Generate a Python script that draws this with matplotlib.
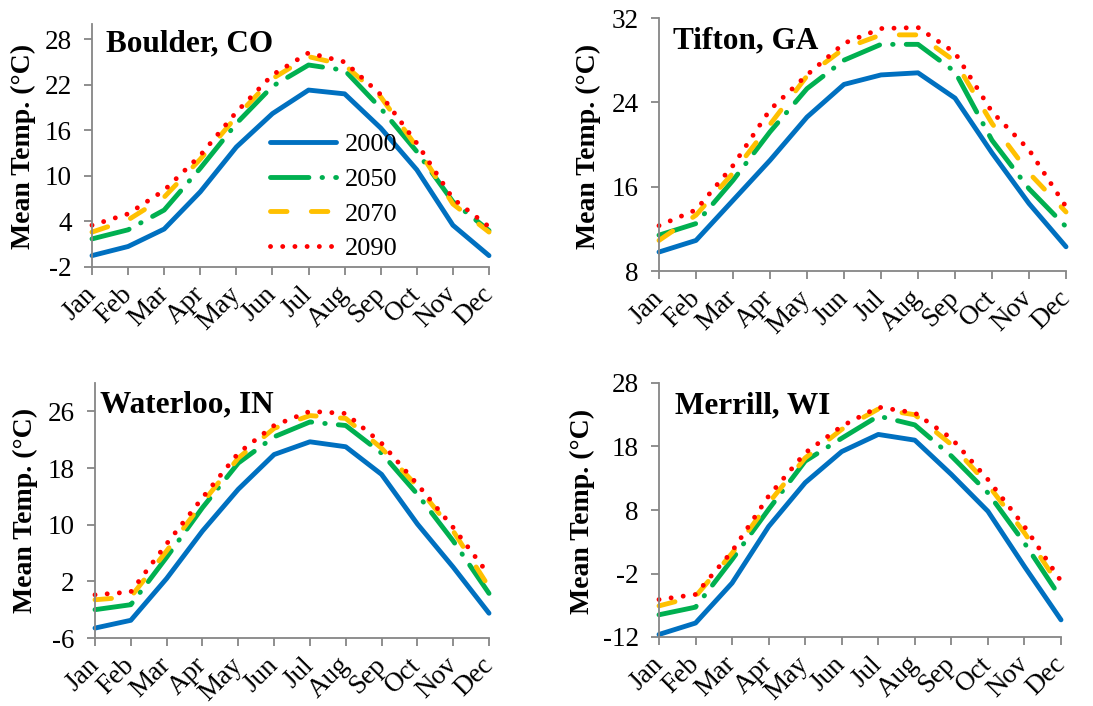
import matplotlib
matplotlib.use("Agg")
import matplotlib.pyplot as plt

plt.rcParams['font.family'] = ['Liberation Serif', 'DejaVu Serif']

months = ['Jan', 'Feb', 'Mar', 'Apr', 'May', 'Jun', 'Jul', 'Aug', 'Sep', 'Oct', 'Nov', 'Dec']
years = ['2000', '2050', '2070', '2090']

boulder_2000 = [-0.5, 0.7, 3.0, 7.9, 13.8, 18.2, 21.3, 20.8, 16.3, 10.8, 3.5, -0.5]
boulder_2050 = [1.7, 2.9, 5.5, 11.0, 16.9, 21.8, 24.6, 23.9, 18.9, 13.2, 6.6, 2.8]
boulder_2070 = [2.6, 4.2, 7.2, 12.2, 17.8, 22.8, 25.7, 24.6, 20.4, 13.8, 6.3, 2.6]
boulder_2090 = [3.5, 5.0, 8.1, 12.7, 18.4, 23.3, 26.2, 25.0, 20.7, 14.3, 7.0, 3.3]

tifton_2000 = [9.8, 10.9, 14.7, 18.5, 22.6, 25.7, 26.6, 26.8, 24.4, 19.2, 14.4, 10.3]
tifton_2050 = [11.4, 12.5, 16.6, 21.2, 25.3, 28.0, 29.5, 29.5, 26.9, 20.4, 15.8, 12.2]
tifton_2070 = [10.9, 13.3, 17.3, 21.9, 26.5, 29.1, 30.4, 30.4, 27.9, 22.0, 17.3, 13.6]
tifton_2090 = [12.3, 13.8, 18.0, 23.3, 26.6, 29.6, 31.0, 31.1, 28.7, 23.1, 19.5, 14.1]

waterloo_2000 = [-4.6, -3.5, 2.4, 9.1, 15.0, 19.9, 21.7, 21.0, 17.1, 10.1, 4.0, -2.5]
waterloo_2050 = [-2.0, -1.3, 5.4, 12.4, 18.7, 22.4, 24.5, 24.0, 20.1, 14.3, 7.7, 0.3]
waterloo_2070 = [-0.6, -0.2, 6.3, 13.1, 19.4, 23.6, 25.4, 25.0, 20.8, 15.4, 9.1, 1.2]
waterloo_2090 = [0.1, 0.5, 7.3, 13.8, 20.1, 24.0, 26.0, 25.7, 21.5, 15.7, 9.6, 2.9]

merrill_2000 = [-11.6, -9.8, -3.5, 5.4, 12.3, 17.2, 19.9, 19.0, 13.6, 7.8, -0.9, -9.3]
merrill_2050 = [-8.5, -7.3, 0.2, 8.1, 15.7, 19.3, 22.8, 21.4, 16.5, 10.7, 2.8, -5.9]
merrill_2070 = [-7.1, -5.6, 1.2, 9.1, 16.2, 20.7, 23.9, 23.0, 18.3, 12.0, 4.4, -4.3]
merrill_2090 = [-6.1, -5.3, 1.5, 10.2, 17.0, 21.2, 24.2, 23.3, 19.3, 12.8, 5.4, -3.2]

panels = [
    dict(title='Boulder, CO', series=[boulder_2000, boulder_2050, boulder_2070, boulder_2090],
         yticks=[-2, 4, 10, 16, 22, 28], ylim=(-2, 30)),
    dict(title='Tifton, GA', series=[tifton_2000, tifton_2050, tifton_2070, tifton_2090],
         yticks=[8, 16, 24, 32], ylim=(8, 32)),
    dict(title='Waterloo, IN', series=[waterloo_2000, waterloo_2050, waterloo_2070, waterloo_2090],
         yticks=[-6, 2, 10, 18, 26], ylim=(-6, 30)),
    dict(title='Merrill, WI', series=[merrill_2000, merrill_2050, merrill_2070, merrill_2090],
         yticks=[-12, -2, 8, 18, 28], ylim=(-12, 28)),
]

W, H = 1093, 706
# axes boxes in pixels: left, top, right, bottom
boxes = [(92, 24, 489, 267), (659, 18, 1066, 271), (95, 383, 489, 638), (659, 383, 1061, 637)]
title_pos = [(106, 51), (673, 48), (100, 412), (675, 413)]
ylabel_pos = [(23, 146), (588, 146), (25, 510), (582, 511)]

colors = ['#0070C0', '#00B050', '#FFC000', '#FF0000']
LW = 3.5
styles = ['-', (0, (7.9, 2.7, 0.1, 2.7)), (0, (3.4, 5.0)), (0, (0.01, 2.5))]
axis_gray = '#868686'

fig = plt.figure(figsize=(W / 100, H / 100), dpi=100)

for i, p in enumerate(panels):
    l, t, r, b = boxes[i]
    ax = fig.add_axes([l / W, 1 - b / H, (r - l) / W, (b - t) / H])
    x = list(range(len(months)))
    handles = []
    for s, c, ls, lab in zip(p['series'], colors, styles, years):
        h, = ax.plot(x, s, color=c, lw=LW, linestyle=ls, dash_capstyle='round',
                     solid_capstyle='round', solid_joinstyle='round', clip_on=False, label=lab)
        handles.append(h)
    ax.set_xlim(0, 11)
    ax.set_ylim(*p['ylim'])
    ax.set_yticks(p['yticks'])
    ax.set_yticklabels([str(v) for v in p['yticks']], fontsize=19.5)
    ax.set_xticks(x)
    ax.set_xticklabels(months, fontsize=19.5, rotation=45, ha='right', va='center',
                       rotation_mode='anchor')
    for sp in ['top', 'right']:
        ax.spines[sp].set_visible(False)
    for sp in ['left', 'bottom']:
        ax.spines[sp].set_color(axis_gray)
        ax.spines[sp].set_linewidth(1.3)
    ax.tick_params(axis='both', direction='out', length=5.5, width=1.3, color=axis_gray)
    ax.tick_params(axis='y', pad=9)
    ax.tick_params(axis='x', pad=11.5)
    ax.patch.set_visible(False)

    tx, ty = title_pos[i]
    fig.text(tx / W, 1 - ty / H, p['title'], fontsize=22.5, fontweight='bold',
             ha='left', va='baseline')
    lx, ly = ylabel_pos[i]
    fig.text(lx / W, 1 - ly / H, 'Mean Temp. (°C)', fontsize=20, fontweight='bold',
             rotation=90, ha='center', va='center')

    if i == 0:
        ax.legend(handles, years, loc='upper left', bbox_to_anchor=(270 / W, 1 - 133 / H),
                  bbox_transform=fig.transFigure, frameon=False, borderpad=0,
                  borderaxespad=0, handlelength=2.5, handletextpad=0.34,
                  labelspacing=0.42, fontsize=19)

fig.savefig('out.png', dpi=100)
